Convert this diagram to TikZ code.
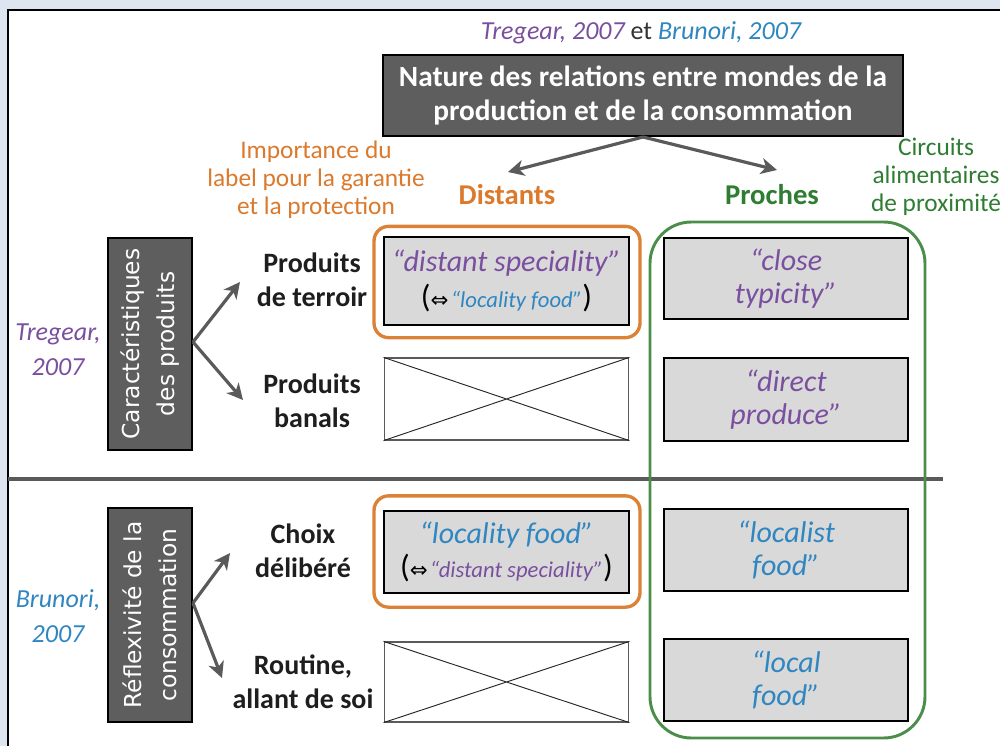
\documentclass[tikz,border=0pt]{standalone}
\usepackage{fontspec}
\setmainfont{Carlito}
\newfontfamily\verd{DejaVu Sans}
\newfontfamily\sym{DejaVu Sans}
\usetikzlibrary{arrows.meta}
\definecolor{bgblue}{HTML}{DCE5F0}
\definecolor{purp}{HTML}{7A4F9F}
\definecolor{blu}{HTML}{2F86C0}
\definecolor{orngtxt}{HTML}{DB7A2C}
\definecolor{orngline}{HTML}{DC8236}
\definecolor{grntxt}{HTML}{2E7D32}
\definecolor{grnline}{HTML}{4A8E4A}
\definecolor{darkbox}{HTML}{5E5E5E}
\definecolor{lightbox}{HTML}{D9D9D9}
\definecolor{arrgray}{HTML}{5A5A5A}
\definecolor{lbltxt}{HTML}{1E1E1E}
\definecolor{ettxt}{HTML}{333333}
\tikzset{
  titlebox/.style={draw=black, line width=1.5pt, fill=darkbox, text=white, align=center,
    font=\bfseries\fontsize{22}{25}\selectfont, inner sep=0pt,
    minimum width=390pt, minimum height=60.75pt},
  vbox/.style={draw=black, line width=1.5pt, fill=darkbox, text=white, align=center,
    font=\verd\fontsize{17.5}{26}\selectfont, inner sep=0pt, rotate=90, minimum height=63pt},
  graybox/.style={draw=black, line width=1.7pt, fill=lightbox, align=center, inner sep=0pt,
    minimum width=183.5pt},
  crossbox/.style={draw=arrgray, line width=0.9pt, fill=white, inner sep=0pt, minimum width=183.5pt},
  crossline/.style={draw=black!85, line width=0.7pt},
  orngframe/.style={draw=orngline, line width=2.5pt, rounded corners=11pt, inner sep=0pt,
    minimum width=199.5pt, minimum height=83.5pt},
  grnframe/.style={draw=grnline, line width=2.2pt, rounded corners=31pt, inner sep=0pt},
  arr/.style={draw=arrgray, line width=2.4pt, -{Stealth[length=12pt,width=12pt,inset=3.5pt]}},
  divider/.style={draw=arrgray, line width=2.6pt},
  lbl/.style={text=lbltxt, align=center, font=\bfseries\fontsize{21}{25.5}\selectfont, inner sep=0pt},
  quote/.style={align=center, font=\itshape\fontsize{22.5}{25}\selectfont},
  sidetxt/.style={align=center, font=\fontsize{19}{21}\selectfont, inner sep=0pt},
  cite/.style={align=center, font=\itshape\fontsize{19.5}{26}\selectfont, inner sep=0pt},
  head/.style={font=\bfseries\fontsize{21.5}{25}\selectfont, inner sep=0pt}
}
\begin{document}
\begin{tikzpicture}[x=0.75pt,y=-0.75pt]
\useasboundingbox (0,0) rectangle (1000,746);
% background and panel
\fill[bgblue] (0,0) rectangle (1000,746);
\fill[white] (8,10) rectangle (1000,746);
\draw[black, line width=1.5pt] (8,746) -- (8,10) -- (1000,10);

% citation and title
\node[inner sep=0pt, font=\fontsize{19.5}{24}\selectfont] (cite) at (641,33)
  {{\itshape\color{purp}Tregear, 2007} {\color{ettxt}et} {\itshape\color{blu}Brunori, 2007}};
\node[titlebox] (title) at (643,95.5) {Nature des relations entre mondes de la\\production et de la consommation};

\coordinate (dtip) at (508,172);
\coordinate (ptip) at (777,170);
\draw[arr] (title.south) -- (dtip);
\draw[arr] (title.south) -- (ptip);

\node[head, text=orngtxt] (dist) at (507,195) {Distants};
\node[head, text=grntxt] (proch) at (772,195) {Proches};

\node[sidetxt, text=orngtxt] (imp) at (316,180) {Importance du\\label pour la garantie\\et la protection};
\node[sidetxt, text=grntxt] (circ) at (936,177) {Circuits\\alimentaires\\de proximité};

% divider
\coordinate (dl) at (8,479);
\coordinate (dr) at (943,479);
\draw[divider] (dl) -- (dr);

% green frame
\node[grnframe, minimum width=206.25pt, minimum height=387pt] (gf) at (787.5,480) {};

% orange frames
\node[orngframe] (of1) at (507,282) {};
\node[orngframe] (of2) at (507,551.5) {};

% left gray boxes
\node[graybox, minimum height=66pt] (gb1) at (506.5,281)
  {{\color{purp}\itshape\fontsize{22.5}{27}\selectfont “distant speciality”}\\[5pt]
   {\fontsize{24}{27}\selectfont(}{\sym\fontsize{16}{16}\selectfont ⇔}\,{\color{blu}\itshape\fontsize{17}{20}\selectfont “locality food”}{\fontsize{24}{27}\selectfont)}};
\node[graybox, minimum height=61.5pt] (gb2) at (506.5,552)
  {{\color{blu}\itshape\fontsize{22.5}{27}\selectfont “locality food”}\\[3pt]
   {\fontsize{24}{27}\selectfont(}{\sym\fontsize{16}{16}\selectfont ⇔}\,{\color{purp}\itshape\fontsize{17}{20}\selectfont “distant speciality”}{\fontsize{24}{27}\selectfont)}};

% crossed boxes
\node[crossbox, minimum height=61.5pt] (cb1) at (506.5,399) {};
\draw[crossline] (cb1.north west) -- (cb1.south east) (cb1.south west) -- (cb1.north east);
\node[crossbox, minimum height=60pt] (cb2) at (506.5,682) {};
\draw[crossline] (cb2.north west) -- (cb2.south east) (cb2.south west) -- (cb2.north east);

% right gray boxes
\node[graybox, quote, text=purp, minimum width=183pt, minimum height=60.75pt] (rb1) at (786,278.5) {“close\\typicity”};
\node[graybox, quote, text=purp, minimum width=183pt, minimum height=62.25pt] (rb2) at (786,399.5) {“direct\\produce”};
\node[graybox, quote, text=blu, minimum width=183pt, minimum height=61.5pt] (rb3) at (786,550) {“localist\\food”};
\node[graybox, quote, text=blu, minimum width=183pt, minimum height=61.5pt] (rb4) at (786,680) {“local\\food”};

% vertical dark boxes
\node[vbox, minimum width=159pt] (vb1) at (150,344) {Caractéristiques\\des produits};
\node[vbox, minimum width=160.5pt] (vb2) at (150,615) {Réflexivité de la\\consommation};

% side citations
\node[cite, text=purp] (trg) at (58,350) {Tregear,\\2007};
\node[cite, text=blu] (brn) at (58,616) {Brunori,\\2007};

% branch arrows
\coordinate (t1) at (240,282);
\coordinate (t2) at (243,400);
\coordinate (t3) at (230,553);
\coordinate (t4) at (222,678);
\coordinate (s1) at (193,342);
\coordinate (s2) at (193,603);
\draw[arr] (s1) -- (t1);
\draw[arr] (s1) -- (t2);
\draw[arr] (s2) -- (t3);
\draw[arr] (s2) -- (t4);

% row labels
\node[lbl] (l1) at (312,280) {Produits\\de terroir};
\node[lbl] (l2) at (312,400.5) {Produits\\banals};
\node[lbl] (l3) at (303,550.5) {Choix\\délibéré};
\node[lbl] (l4) at (303,681.5) {Routine,\\allant de soi};
\end{tikzpicture}
\end{document}
